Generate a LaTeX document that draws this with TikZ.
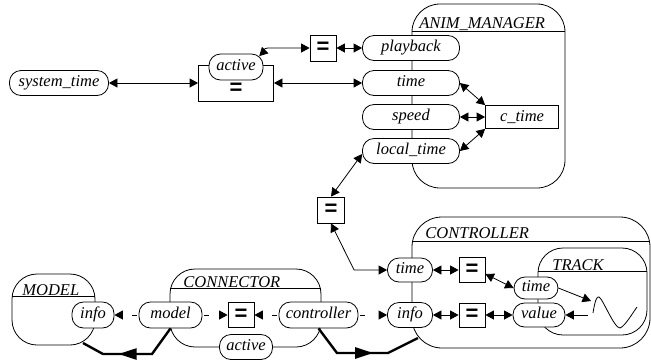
\documentclass[tikz,border=0pt]{standalone}
\usepackage{fontspec}
\setmainfont{Liberation Serif}
\newfontfamily\lblfont{Liberation Serif}
\newfontfamily\eqfont{Liberation Sans}
\usetikzlibrary{arrows.meta,decorations.markings}
\tikzset{
  ah/.tip={Triangle[length=8.5pt,width=9pt]},
  bigah/.tip={Triangle[length=18pt,width=11pt]},
  lbl/.style={font=\lblfont\itshape\fontsize{16.5}{18}\selectfont},
  pill/.style={lbl, draw, fill=white, rounded corners=11.5pt, minimum height=25pt,
    inner xsep=2pt, inner ysep=0pt, text height=11pt, text depth=4pt},
  eqglyph/.style={font=\eqfont\bfseries\fontsize{22}{22}\selectfont, inner sep=0pt},
  eqbox/.style={eqglyph, draw, fill=white, minimum width=26pt, minimum height=26pt},
  plainbox/.style={draw, fill=white},
  container/.style={draw, rounded corners=25pt, inner sep=0pt},
  titletext/.style={lbl, anchor=base west, inner sep=0pt},
  link/.style={ah-ah},
  dlink/.style={-ah, dash pattern=on 5pt off 30pt, dash phase=33.5pt},
  heavy/.style={line width=2.4pt, line join=miter},
}
\begin{document}
\begin{tikzpicture}[x=1pt, y=-1pt, line width=0.8pt]
\useasboundingbox (0,0) rectangle (651,360);

% containers
\node[container, rounded corners=28pt, minimum width=153pt, minimum height=184pt] (ambox) at (488.5,96) {};
\draw ([yshift=-28pt]ambox.north west) -- ([yshift=-28pt]ambox.north east);
\node[titletext] (amtitle) at (419,28) {ANIM\_MANAGER};

\node[container, rounded corners=30pt, minimum width=238pt, minimum height=131pt] (ctrlbox) at (531,282.5) {};
\draw ([yshift=-25pt]ctrlbox.north west) -- ([yshift=-25pt]ctrlbox.north east);
\node[titletext] (ctrltitle) at (425,238) {CONTROLLER};

\node[container, minimum width=109pt, minimum height=87pt] (trackbox) at (592.5,291.5) {};
\draw ([yshift=-24pt]trackbox.north west) -- ([yshift=-24pt]trackbox.north east);
\node[titletext] (tracktitle) at (552,270) {TRACK};

\node[container, minimum width=83pt, minimum height=71pt] (modelbox) at (53.5,309.5) {};
\draw ([yshift=-23pt]modelbox.north west) -- ([yshift=-23pt]modelbox.north east);
\node[titletext] (modeltitle) at (22,295) {MODEL};

\node[container, minimum width=151pt, minimum height=78pt] (connbox) at (245.5,308) {};
\draw ([yshift=-20pt]connbox.north west) -- ([yshift=-20pt]connbox.north east);
\node[titletext] (conntitle) at (183,287) {CONNECTOR};

% wave in track
\draw (593,313) .. controls (595,300) and (597,296) .. (599,297)
      .. controls (603,299) and (614,328) .. (620,328)
      .. controls (625,326) and (632,314) .. (637,307);
\coordinate (wavein) at (591,301);
\coordinate (waveout) at (588,315);

% nodes
\node[pill, minimum width=99pt] (systime) at (59,83) {system\_time};
\node[plainbox, minimum width=75pt, minimum height=36pt] (activebox) at (236,83) {};
\node[eqglyph] (activeeq) at (236,89) {=};
\node[pill, minimum width=54pt, minimum height=26pt] (activepill) at (236,67) {active};
\node[eqbox] (eqtop) at (323,48) {=};
\node[pill, minimum width=97pt] (playback) at (411,48) {playback};
\node[pill, minimum width=97pt] (amtime) at (411,83) {time};
\node[pill, minimum width=97pt] (speed) at (411,117) {speed};
\node[pill, minimum width=97pt] (localtime) at (411,151) {local\_time};
\node[plainbox, lbl, minimum width=73pt, minimum height=23pt, inner sep=0pt] (ctime) at (522,117) {c\_time};
\node[eqbox, minimum width=27pt] (eqmid) at (331,210) {=};

\node[pill, minimum width=45pt, minimum height=24pt] (ctltime) at (410,270) {time};
\node[pill, minimum width=45pt] (ctlinfo) at (410,315) {info};
\node[eqbox, minimum height=25pt] (eq1) at (472,270) {=};
\node[eqbox, minimum height=24pt] (eq2) at (472,315) {=};
\node[pill, minimum width=44pt, minimum height=22pt, rounded corners=11pt] (ttime) at (536,288) {time};
\node[pill, minimum width=52pt, minimum height=24pt] (tvalue) at (539,315) {value};

\node[pill, minimum width=42pt, minimum height=26pt] (minfo) at (93,315) {info};
\node[pill, minimum width=63pt, minimum height=26pt] (cmodel) at (170.5,315) {model};
\node[eqbox, minimum height=25pt] (ceq) at (241,315) {=};
\node[pill, minimum width=79pt, minimum height=26pt] (cctrl) at (318.5,315) {controller};
\node[pill, minimum width=53pt] (cactive) at (246,347) {active};

% connectors
\draw[link] (systime.east) -- (activebox.west);
\draw[link] (eqtop.west) -- ++(-42,0) to[out=180,in=45] ([yshift=-2.5pt]activepill.30);
\draw[link] (eqtop.east) -- (playback.west);
\draw[link] (activebox.east) -- (amtime.west);
\draw[link] (ctime.north west) -- (amtime.east);
\draw[link] (ctime.west) -- (speed.east);
\draw[link] (ctime.south west) -- (localtime.east);
\draw[link] (eqmid.north) -- ([yshift=-3pt]localtime.west);
\draw[link] (eqmid.south) -- ([xshift=-33pt]ctltime.west) -- (ctltime.west);
\draw[link] (ctltime.east) -- (eq1.west);
\draw[link] (ctlinfo.east) -- (eq2.west);
\draw[link] ([yshift=-4pt]eq1.east) -- (ttime.west);
\draw[link] (eq2.east) -- (tvalue.west);
\draw[-ah] (ttime.east) -- (wavein);
\draw[-ah] (waveout) -- (tvalue.east);

\draw[dlink] (cmodel.west) -- (minfo.east);
\draw[dlink] (cmodel.east) -- (ceq.west);
\draw[dlink] (cctrl.west) -- (ceq.east);
\draw[dlink] (cctrl.east) -- (ctlinfo.west);

\coordinate (mend) at (83,343);
\coordinate (cend) at (418,338);
\draw[heavy, postaction={decorate},
  decoration={markings, mark=at position 65pt with {\arrow{bigah}}}]
  (cmodel.south) -- (152,354) -- (103,354) -- (mend);
\draw[heavy, postaction={decorate},
  decoration={markings, mark=at position 67pt with {\arrow{bigah}}}]
  (cctrl.south) -- (337,353) -- (388,353) -- (cend);
\end{tikzpicture}
\end{document}
